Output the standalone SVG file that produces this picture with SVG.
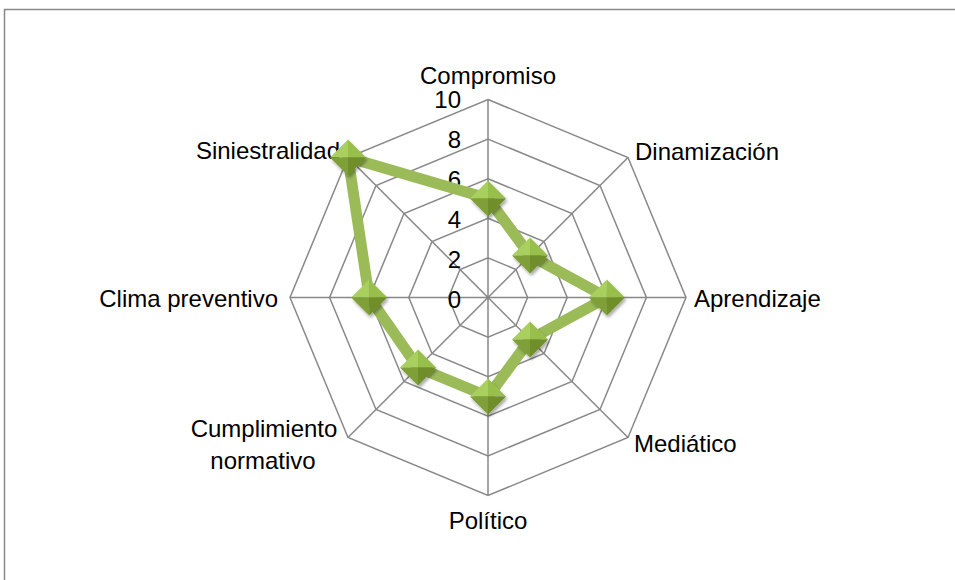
<svg xmlns="http://www.w3.org/2000/svg" xmlns:xlink="http://www.w3.org/1999/xlink" width="955" height="580" viewBox="0 0 955 580">
<style>
.lbl{font-family:"Liberation Sans",Arial,sans-serif;font-size:24px;fill:#000}
.num{font-family:"Liberation Sans",Arial,sans-serif;font-size:24px;fill:#000;text-anchor:end}
.grid{fill:none;stroke:#888;stroke-width:1.5}
.data{fill:none;stroke:#9bbb59;stroke-width:11;stroke-linejoin:miter}
</style>
<defs>
<filter id="sh" x="-50%" y="-50%" width="200%" height="200%">
<feDropShadow dx="1.5" dy="2.5" stdDeviation="1.8" flood-color="#000" flood-opacity="0.35"/>
</filter>
<g id="mk" filter="url(#sh)">
<polygon points="0,-18 -18,0 0,0" fill="#a9d05e"/>
<polygon points="0,-18 18,0 0,0" fill="#98bf4c"/>
<polygon points="-18,0 0,18 0,0" fill="#7f9f38"/>
<polygon points="18,0 0,18 0,0" fill="#6f8e2c"/>
</g>
</defs>
<rect x="4.5" y="9.5" width="970" height="600" fill="#fff" stroke="#888" stroke-width="1.5"/>
<g id="grid">
<polygon class="grid" points="488,99.5 628,157.5 686,297.5 628,437.5 488,495.5 348,437.5 290,297.5 348,157.5"/>
<polygon class="grid" points="488,139.1 600,185.5 646.4,297.5 600,409.5 488,455.9 376,409.5 329.6,297.5 376,185.5"/>
<polygon class="grid" points="488,178.7 572,213.5 606.8,297.5 572,381.5 488,416.3 404,381.5 369.2,297.5 404,213.5"/>
<polygon class="grid" points="488,218.3 544,241.5 567.2,297.5 544,353.5 488,376.7 432,353.5 408.8,297.5 432,241.5"/>
<polygon class="grid" points="488,257.9 516,269.5 527.6,297.5 516,325.5 488,337.1 460,325.5 448.4,297.5 460,269.5"/>
<path class="grid" d="M488,297.5L488,99.5M488,297.5L628,157.5M488,297.5L686,297.5M488,297.5L628,437.5M488,297.5L488,495.5M488,297.5L348,437.5M488,297.5L290,297.5M488,297.5L348,157.5"/>
</g>
<g id="scale">
<text class="num" x="461" y="307.5">0</text>
<text class="num" x="461" y="267.5">2</text>
<text class="num" x="461" y="227.5">4</text>
<text class="num" x="461" y="187.5">6</text>
<text class="num" x="461" y="147.5">8</text>
<text class="num" x="461" y="108">10</text>
</g>
<g id="axis-labels">
<text class="lbl" x="488" y="84" text-anchor="middle">Compromiso</text>
<text class="lbl" x="635" y="160">Dinamización</text>
<text class="lbl" x="694" y="307">Aprendizaje</text>
<text class="lbl" x="634" y="452">Mediático</text>
<text class="lbl" x="488" y="529" text-anchor="middle">Político</text>
<text class="lbl" x="264" y="437" text-anchor="middle">Cumplimiento</text>
<text class="lbl" x="263" y="469" text-anchor="middle">normativo</text>
<text class="lbl" x="278" y="307" text-anchor="end">Clima preventivo</text>
<text class="lbl" x="340" y="159" text-anchor="end">Siniestralidad</text>
</g>
<g id="series">
<polygon class="data" points="488,198.5 530,255.5 606.8,297.5 530,339.5 488,396.5 418,367.5 369.2,297.5 348,157.5"/>
<use xlink:href="#mk" x="488" y="198.5"/>
<use xlink:href="#mk" x="530" y="255.5"/>
<use xlink:href="#mk" x="606.8" y="297.5"/>
<use xlink:href="#mk" x="530" y="339.5"/>
<use xlink:href="#mk" x="488" y="396.5"/>
<use xlink:href="#mk" x="418" y="367.5"/>
<use xlink:href="#mk" x="369.2" y="297.5"/>
<use xlink:href="#mk" x="348" y="157.5"/>
</g>
</svg>
